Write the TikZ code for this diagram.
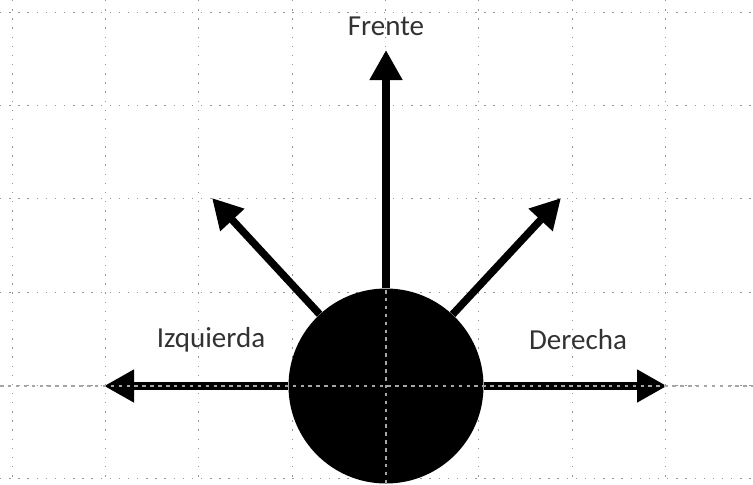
\documentclass[tikz,border=0pt]{standalone}
\usepackage{fontspec}
\setmainfont{Carlito}
\usetikzlibrary{arrows.meta,positioning}
\definecolor{gridgrey}{RGB}{150,150,150}
\definecolor{labelgrey}{RGB}{50,50,50}

\begin{document}
\begin{tikzpicture}[x=0.2mm, y=-0.2mm,
  every node/.style={font=\fontsize{16.5}{20}\selectfont, text=labelgrey},
  dir/.style={line width=1.5mm, -{Triangle[length=6mm,width=6.2mm]}},
  gridline/.style={gridgrey, line width=0.5pt, dash pattern=on 0.8pt off 4.4pt}]
\useasboundingbox (0,0) rectangle (753,484);
\clip (0,0) rectangle (753,484);
% dotted grid
\foreach \k in {0,...,7} \draw[gridline] ({12+93.33*\k},0) -- ({12+93.33*\k},484);
\foreach \k in {0,...,5} \draw[gridline] (0,{12+93.33*\k}) -- (753,{12+93.33*\k});
\node[circle, fill=black, minimum size=39mm, inner sep=0pt] (body) at (386,386) {};
\coordinate (tipF) at (386,50);
\coordinate (tipL) at (104,386);
\coordinate (tipR) at (667,386);
\coordinate (tipUL) at (212,198);
\coordinate (tipUR) at (561,198);
\node (frente) at (386,26) {Frente};
\node (izq) at (211,340) {Izquierda};
\node (der) at (578,340) {Derecha};
\draw[dir] (body) -- (tipF);
\draw[dir] (body) -- (tipL);
\draw[dir] (body) -- (tipR);
\draw[dir] (body) -- (tipUL);
\draw[dir] (body) -- (tipUR);
% center lines over the body
\draw[gray!70, line width=0.6pt, dash pattern=on 2pt off 2.5pt] (0,386) -- (753,386);
\draw[gray!70, line width=0.6pt, dash pattern=on 2pt off 2.5pt] (386,290) -- (386,484);
\end{tikzpicture}
\end{document}
